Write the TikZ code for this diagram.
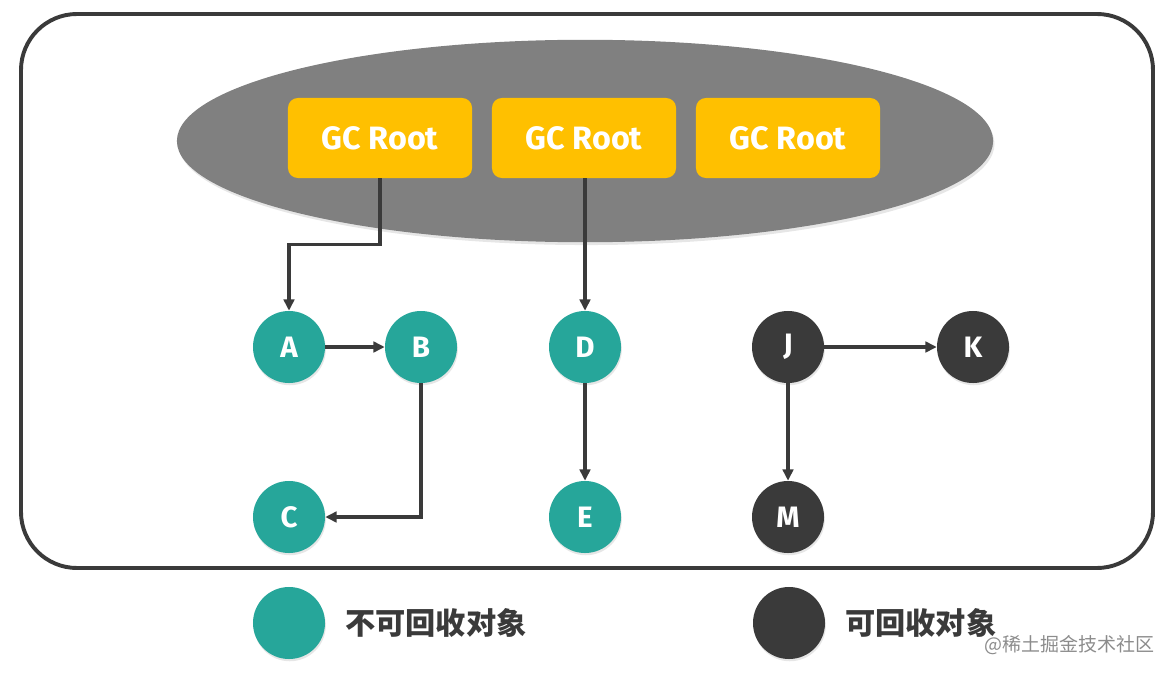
\documentclass[tikz,border=0pt]{standalone}
\usepackage{fontspec}
\setmainfont{Fira Sans}
\newfontfamily\cjk{Noto Sans CJK SC}
\usetikzlibrary{arrows.meta,shadows}
\definecolor{rootyellow}{HTML}{FFC000}
\definecolor{keepteal}{HTML}{26A69A}
\definecolor{darkgc}{HTML}{3A3A3A}
\definecolor{ringgray}{HTML}{808080}
\begin{document}
\begin{tikzpicture}[x=0.025cm,y=-0.025cm,
   root/.style={fill=rootyellow,rounded corners=7pt,minimum width=4.6cm,
     minimum height=2cm,text=white,font=\bfseries\fontsize{23}{27}\selectfont},
   obj/.style={circle,minimum size=1.8cm,inner sep=0pt,text=white,
     font=\bfseries\fontsize{21}{25}\selectfont,
     drop shadow={opacity=.2,shadow xshift=.6pt,shadow yshift=-1.6pt}},
   keep/.style={obj,fill=keepteal},
   free/.style={obj,fill=darkgc},
   link/.style={draw=darkgc,line width=2.2pt,-{Triangle[length=8pt,width=7.5pt]}},
   legend/.style={anchor=west,inner sep=0pt,text=darkgc,
     font=\cjk\bfseries\fontsize{21.5}{25}\selectfont}]
   \useasboundingbox (0,0) rectangle (1174,676);

   \draw[darkgc,line width=2.8pt,rounded corners=1.4cm] (21,14) rectangle (1153,568);

   % roots
   \fill[ringgray,drop shadow={opacity=.2,shadow xshift=1pt,shadow yshift=-2pt}]
     (585,141) ellipse [x radius=10.2cm,y radius=2.53cm];
   \node[root] (r1) at (380,138) {GC Root};
   \node[root] (r2) at (584,138) {GC Root};
   \node[root] (r3) at (788,138) {GC Root};

   % objects
   \node[keep] (a) at (289,347) {A};
   \node[keep] (b) at (421,347) {B};
   \node[keep] (c) at (289,517) {C};
   \node[keep] (d) at (585,347) {D};
   \node[keep] (e) at (585,517) {E};
   \node[free] (j) at (788,347) {J};
   \node[free] (k) at (973,347) {K};
   \node[free] (m) at (788,517) {M};

   \draw[link] (r1.south) -- ++(0,66) -| (a.north);
   \draw[link] (a) -- (b);
   \draw[link] (b.south) |- (c.east);
   \draw[link] (r2.south -| d) -- (d.north);
   \draw[link] (d) -- (e);
   \draw[link] (j) -- (k);
   \draw[link] (j) -- (m);

   % legend
   \node[keep] (lk) at (289,623) {};
   \node[legend] (lkt) at (345,623) {不可回收对象};
   \node[free] (lf) at (789,623) {};
   \node[legend] (lft) at (845,623) {可回收对象};
   \node[anchor=east,inner sep=0pt,text=black!45,
     font=\cjk\fontsize{13.5}{16}\selectfont] (wm) at (1155,645) {@稀土掘金技术社区};
 \end{tikzpicture}
\end{document}
